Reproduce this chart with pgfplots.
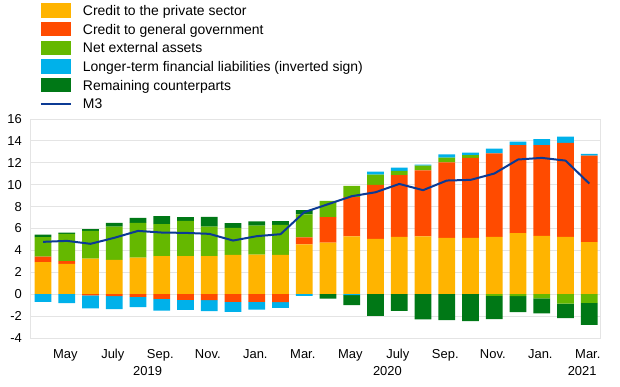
\documentclass[border=0pt]{standalone}
\usepackage{pgfplots}
\usepackage{pgfplotstable}
\pgfplotsset{compat=1.18}
\usepackage{fontspec}
\setmainfont{Liberation Sans}
\definecolor{cpriv}{HTML}{FFB400}
\definecolor{cgov}{HTML}{FF4B00}
\definecolor{cnea}{HTML}{65B800}
\definecolor{cltfl}{HTML}{00B1EA}
\definecolor{crem}{HTML}{007816}
\definecolor{cm3}{HTML}{0B3A94}
\definecolor{cgrid}{HTML}{E4E4E4}

\pgfplotstableread{
idx priv gov nea ltfl rem m3
0 2.92 0.52 1.77 -0.70 0.24 4.78
1 2.77 0.24 2.50 -0.82 0.12 4.87
2 3.26 -0.10 2.52 -1.20 0.16 4.60
3 3.14 -0.18 3.04 -1.19 0.33 5.15
4 3.35 -0.24 3.16 -0.95 0.46 5.78
5 3.47 -0.43 2.92 -1.06 0.73 5.63
6 3.47 -0.52 3.23 -0.91 0.33 5.60
7 3.47 -0.55 2.71 -1.00 0.88 5.51
8 3.59 -0.70 2.47 -0.91 0.42 4.90
9 3.62 -0.70 2.65 -0.70 0.37 5.30
10 3.59 -0.73 2.74 -0.52 0.34 5.48
11 4.54 0.64 2.10 -0.15 0.39 7.49
12 4.72 2.31 1.50 0.00 -0.40 8.22
13 5.27 3.59 1.03 -0.09 -0.91 8.95
14 5.05 4.93 0.95 0.27 -1.98 9.31
15 5.23 5.64 0.39 0.31 -1.52 10.07
16 5.27 6.03 0.45 0.09 -2.31 9.50
17 5.14 6.89 0.45 0.28 -2.37 10.38
18 5.14 7.31 0.25 0.24 -2.47 10.44
19 5.23 7.62 -0.15 0.45 -2.13 11.02
20 5.57 8.04 -0.18 0.33 -1.46 12.30
21 5.33 8.28 -0.37 0.55 -1.37 12.45
22 5.23 8.59 -0.85 0.58 -1.34 12.20
23 4.75 7.91 -0.79 0.15 -2.01 10.10
}\data

\pgfplotsset{
  common/.style={
    scale only axis, width=570bp, height=219bp,
    xmin=-0.55, xmax=23.45, ymin=-4, ymax=16,
    enlargelimits=false,
  },
  barlegend/.style={legend image code/.code={\fill[##1] (0bp,-7.2bp) rectangle (29.7bp,7.2bp);}},
  linelegend/.style={legend image code/.code={\path[draw=none, fill=none] (0bp,-7.2bp) rectangle (29.7bp,7.2bp);\draw[##1] (0bp,0bp) -- (29.7bp,0bp);}},
}

\begin{document}
\begin{tikzpicture}
\useasboundingbox (-30bp,-49bp) rectangle (590bp,338bp);
\begin{axis}[common, ybar stacked, bar width=16.7bp, clip=false,
  axis line style={draw=cgrid, line width=0.8bp},
  ymajorgrids, grid style={draw=cgrid, line width=0.8bp},
  ytick={-4,-2,...,16},
  xtick={1,3,...,23},
  xticklabels={May,July,Sep.,Nov.,Jan.,Mar.,May,July,Sep.,Nov.,Jan.,Mar.},
  major tick length=0pt,
  tick label style={font=\fontsize{13}{15}\selectfont},
  yticklabel style={inner sep=0pt, xshift=-8bp},
  xticklabel style={inner sep=0pt, yshift=-11bp, xshift=-1.5bp},
  /pgf/number format/assume math mode=true,
  barlegend,
  legend cell align=left,
  legend style={at={(axis description cs:0.0175,1.53)}, anchor=north west,
    draw=none, fill=none, inner sep=0pt,
    font=\fontsize{14}{16}\selectfont,
    column sep=11.5bp, row sep=4.3bp,
    nodes={inner sep=0pt, text height=10bp, text depth=0bp}},
]
\addplot[fill=cpriv, draw=none] table[x=idx, y expr={max(\thisrow{priv},0)}] {\data};
\addlegendentry{Credit to the private sector}
\addplot[fill=cgov, draw=none] table[x=idx, y expr={max(\thisrow{gov},0)}] {\data};
\addlegendentry{Credit to general government}
\addplot[fill=cnea, draw=none] table[x=idx, y expr={max(\thisrow{nea},0)}] {\data};
\addlegendentry{Net external assets}
\addplot[fill=cltfl, draw=none] table[x=idx, y expr={max(\thisrow{ltfl},0)}] {\data};
\addlegendentry{Longer-term financial liabilities (inverted sign)}
\addplot[fill=crem, draw=none] table[x=idx, y expr={max(\thisrow{rem},0)}] {\data};
\addlegendentry{Remaining counterparts}
\addlegendimage{linelegend, draw=cm3, line width=1.6bp}
\addlegendentry{M3}
\node[font=\fontsize{13}{15}\selectfont, anchor=north, inner sep=0pt] at (axis cs:4.4,-4) [yshift=-28bp] {2019};
\node[font=\fontsize{13}{15}\selectfont, anchor=north, inner sep=0pt] at (axis cs:14.5,-4) [yshift=-28bp] {2020};
\node[font=\fontsize{13}{15}\selectfont, anchor=north, inner sep=0pt] at (axis cs:22.7,-4) [yshift=-28bp] {2021};
\end{axis}
\begin{axis}[common, ybar stacked, bar width=16.7bp, hide axis]
\addplot[fill=cgov, draw=none] table[x=idx, y expr={min(\thisrow{gov},0)}] {\data};
\addplot[fill=cnea, draw=none] table[x=idx, y expr={min(\thisrow{nea},0)}] {\data};
\addplot[fill=cltfl, draw=none] table[x=idx, y expr={min(\thisrow{ltfl},0)}] {\data};
\addplot[fill=crem, draw=none] table[x=idx, y expr={min(\thisrow{rem},0)}] {\data};
\end{axis}
\begin{axis}[common, hide axis]
\addplot[draw=cm3, line width=2bp, mark=none, line join=round] table[x=idx, y=m3] {\data};
\end{axis}
\end{tikzpicture}
\end{document}
